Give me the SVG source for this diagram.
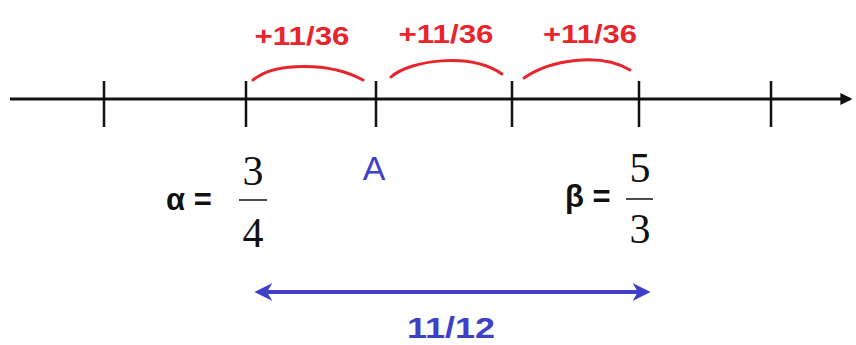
<svg xmlns="http://www.w3.org/2000/svg" width="856" height="345" viewBox="0 0 856 345">
<style>
.tick{stroke:#111;stroke-width:2.5}
.red{fill:#e8242c;font:bold 26px "Liberation Sans",Arial,sans-serif;text-anchor:middle}
.arc{fill:none;stroke:#e8242c;stroke-width:3;stroke-linecap:round}
.frac{font:42px "Liberation Serif","Times New Roman",serif;fill:#111;text-anchor:middle}
.lab{font:bold 31px "Liberation Sans",Arial,sans-serif;fill:#111}
.blue{fill:#3f3fc8}
</style>
<defs>
<marker id="ah" viewBox="0 0 10 10" refX="8" refY="5" markerWidth="4.5" markerHeight="4.5" orient="auto-start-reverse" markerUnits="strokeWidth">
<path d="M0,0 L10,5 L0,10 L3,5 Z" fill="#3f3fc8"/>
</marker>
<marker id="bh" viewBox="0 0 10 10" refX="8" refY="5" markerWidth="4" markerHeight="4" orient="auto" markerUnits="strokeWidth">
<path d="M0,0 L10,5 L0,10 Z" fill="#111"/>
</marker>
</defs>
<rect width="856" height="345" fill="#fff"/>
<g id="axis">
<line x1="10" y1="99" x2="850" y2="99" stroke="#111" stroke-width="3" marker-end="url(#bh)"/>
<line class="tick" x1="104" y1="81" x2="104" y2="127"/>
<line class="tick" x1="246" y1="81" x2="246" y2="127"/>
<line class="tick" x1="376" y1="81" x2="376" y2="127"/>
<line class="tick" x1="512" y1="81" x2="512" y2="127"/>
<line class="tick" x1="639" y1="81" x2="639" y2="127"/>
<line class="tick" x1="771" y1="81" x2="771" y2="127"/>
</g>
<g id="steps">
<text class="red" x="302" y="45" textLength="95" lengthAdjust="spacingAndGlyphs">+11/36</text>
<text class="red" x="446" y="43" textLength="95" lengthAdjust="spacingAndGlyphs">+11/36</text>
<text class="red" x="590" y="43" textLength="94" lengthAdjust="spacingAndGlyphs">+11/36</text>
<path class="arc" d="M253,80 C275,62 330,62 363,80"/>
<path class="arc" d="M391,77 C410,60 470,52 502,74"/>
<path class="arc" d="M524,78 C550,60 600,52 630,70"/>
</g>
<g id="alpha">
<text class="lab" x="166" y="210">α =</text>
<text class="frac" x="253" y="185">3</text>
<line x1="239" y1="200" x2="267" y2="200" stroke="#111" stroke-width="1.5"/>
<text class="frac" x="253" y="247">4</text>
</g>
<g id="A">
<text x="374" y="180" class="blue" style="font:34px 'Liberation Sans',Arial,sans-serif" text-anchor="middle">A</text>
</g>
<g id="beta">
<text class="lab" x="565" y="207">β =</text>
<text class="frac" x="640" y="182">5</text>
<line x1="626" y1="199" x2="653" y2="199" stroke="#111" stroke-width="1.5"/>
<text class="frac" x="640" y="243">3</text>
</g>
<g id="connectors">
<line x1="258" y1="292" x2="647" y2="292" stroke="#3f3fc8" stroke-width="4" marker-start="url(#ah)" marker-end="url(#ah)"/>
</g>
<g id="width">
<text x="451" y="338" class="blue" style="font:bold 29px 'Liberation Sans',Arial,sans-serif" text-anchor="middle" textLength="88" lengthAdjust="spacingAndGlyphs">11/12</text>
</g>
</svg>
